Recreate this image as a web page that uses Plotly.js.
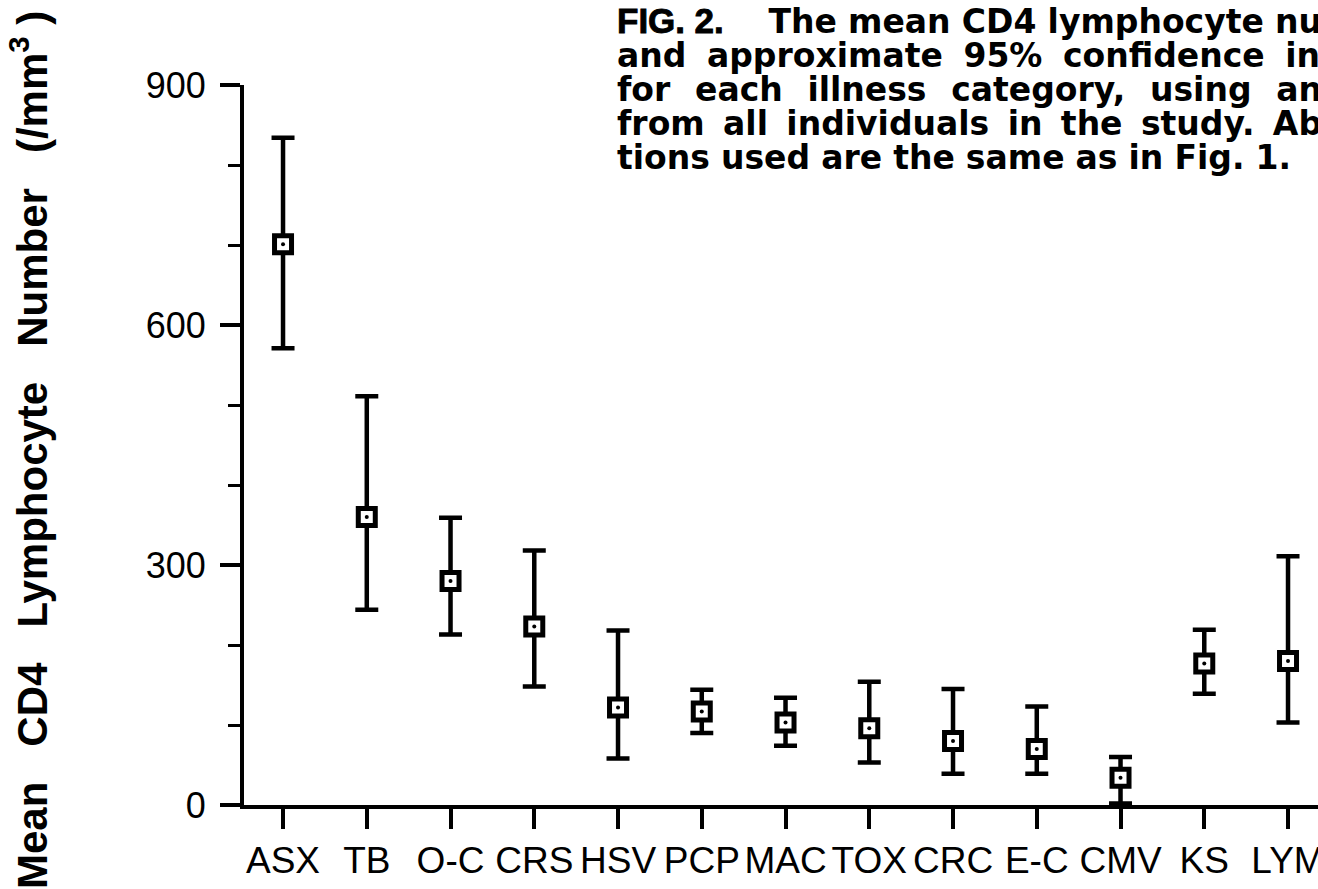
<!DOCTYPE html>
<html>
<head>
<meta charset="utf-8">
<script src="https://cdn.plot.ly/plotly-3.0.1.min.js"></script>
<style>
  html, body { margin: 0; padding: 0; background: #fff; }
  #chart { width: 1318px; height: 889px; }
</style>
</head>
<body>
<div id="chart"></div>
<script>
// Illness categories (x axis tick labels)
const categories = ['ASX', 'TB', 'O-C', 'CRS', 'HSV', 'PCP', 'MAC', 'TOX', 'CRC', 'E-C', 'CMV', 'KS', 'LYM'];
// Mean CD4 lymphocyte number (/mm^3)
const meanCD4 = [701, 360, 280, 223, 122, 117, 103, 96, 80, 70, 34, 177, 180];
// Approximate 95% confidence interval bounds
const upperCI = [834, 511, 359, 318, 218, 144, 134, 154, 145, 123, 60, 219, 311];
const lowerCI = [571, 244, 213, 148, 58, 90, 74, 53, 39, 39, 2, 139, 103];
// Y axis ticks
const yTickVals = [0, 300, 600, 900];
const yTickText = ['0', '300', '600', '900'];
// Caption lines (figure legend, cropped at the right edge as in the original)
const captionLines = [
  '<b>FIG. 2.</b>\u00A0\u00A0\u00A0 The mean CD4 lymphocyte nu',
  'and approximate 95% confidence in',
  'for each illness category, using an',
  'from all individuals in the study. Ab',
  'tions used are the same as in Fig. 1.'
];
const yTitle = 'Mean\u00A0\u00A0\u00A0CD4\u00A0\u00A0\u00A0Lymphocyte\u00A0\u00A0\u00A0Number\u00A0\u00A0\u00A0(/mm<sup>3</sup>\u00A0)';

const errPlus = upperCI.map((u, i) => u - meanCD4[i]);
const errMinus = lowerCI.map((l, i) => meanCD4[i] - l);

const FONT = 'Liberation Sans, Arial, Helvetica, sans-serif';
const CAPFONT = 'DejaVu Sans, Verdana, sans-serif';

const traces = [
  {
    type: 'scatter',
    mode: 'markers',
    x: categories,
    y: meanCD4,
    error_y: {
      type: 'data', symmetric: false,
      array: errPlus, arrayminus: errMinus,
      color: '#000', thickness: 4.5, width: 11.5
    },
    marker: { symbol: 'square', size: 17, color: '#fff', line: { color: '#000', width: 5 } },
    hoverinfo: 'x+y'
  },
  {
    type: 'scatter',
    mode: 'markers',
    x: categories,
    y: meanCD4,
    marker: { symbol: 'circle', size: 4, color: '#000' },
    hoverinfo: 'skip'
  }
];

const L = 244, T = 85, PW = 1318 - 244, PH = 720;
const px2x = p => (p - L) / PW;
const py2y = p => (T + PH - p) / PH;
const CAP_LINE = 34;

const annotations = [{
  text: captionLines.join('<br>'),
  xref: 'paper', yref: 'paper',
  x: px2x(615), y: py2y(0),
  xanchor: 'left', yanchor: 'top', align: 'left',
  showarrow: false,
  font: { family: CAPFONT, size: 33, color: '#000', weight: 'bold' }
}, {
  text: yTitle,
  xref: 'paper', yref: 'paper',
  x: px2x(29), y: py2y(450),
  xanchor: 'center', yanchor: 'middle',
  textangle: -90,
  showarrow: false,
  font: { family: FONT, size: 42, color: '#000', weight: 'bold' }
}];

const layout = {
  width: 1318, height: 889,
  margin: { l: L, r: 0, t: T, b: 889 - T - PH, pad: 0 },
  paper_bgcolor: '#fff', plot_bgcolor: '#fff',
  showlegend: false,
  font: { family: FONT, color: '#000' },
  xaxis: {
    type: 'category',
    range: [-0.466, 12.358],
    showgrid: false, zeroline: false,
    showline: true, linecolor: '#000', linewidth: 4,
    ticks: 'outside', ticklen: 20, tickwidth: 4, tickcolor: '#000',
    ticklabelstandoff: 0,
    tickfont: { family: FONT, size: 37, color: '#000' },
    fixedrange: true
  },
  yaxis: {
    range: [0, 900],
    showgrid: false, zeroline: false,
    showline: true, linecolor: '#000', linewidth: 4,
    tickmode: 'array', tickvals: yTickVals, ticktext: yTickText,
    ticks: 'outside', ticklen: 20, tickwidth: 4, tickcolor: '#000',
    ticklabelstandoff: 7,
    minor: { ticks: 'outside', dtick: 100, tick0: 0, ticklen: 12, tickwidth: 3, tickcolor: '#000', showgrid: false },
    tickfont: { family: FONT, size: 36, color: '#000' },
    fixedrange: true
  },
  annotations: annotations
};

Plotly.newPlot('chart', traces, layout, { displayModeBar: false, staticPlot: true }).then(gd => {
  const t = gd.querySelector('g.annotation[data-index="0"] text.annotation-text');
  if (!t) return;
  // Heavier "FIG. 2." label in a Helvetica-like face
  t.querySelectorAll('tspan').forEach(s => {
    if (s.textContent === 'FIG. 2.') {
      s.style.fontFamily = 'Liberation Sans, Arial, sans-serif';
      s.style.fontWeight = '700';
      s.style.fontSize = '35px';
      s.style.stroke = '#000';
      s.style.strokeWidth = '0.9px';
    }
  });
  // Tight leading and justified lines, like the printed legend
  const lines = t.querySelectorAll('tspan.line');
  lines.forEach((ln, i) => { ln.setAttribute('dy', (i * CAP_LINE) + 'px'); });
  const rightEdges = [1322, 1320, 1322, 1322, 1291];
  lines.forEach((ln, i) => {
    const r = ln.getBoundingClientRect();
    const n = (ln.textContent.match(/[ \u00A0]/g) || []).length;
    if (n > 0 && rightEdges[i] !== undefined) {
      ln.style.wordSpacing = ((rightEdges[i] - r.right) / n) + 'px';
    }
  });
});
</script>
</body>
</html>
